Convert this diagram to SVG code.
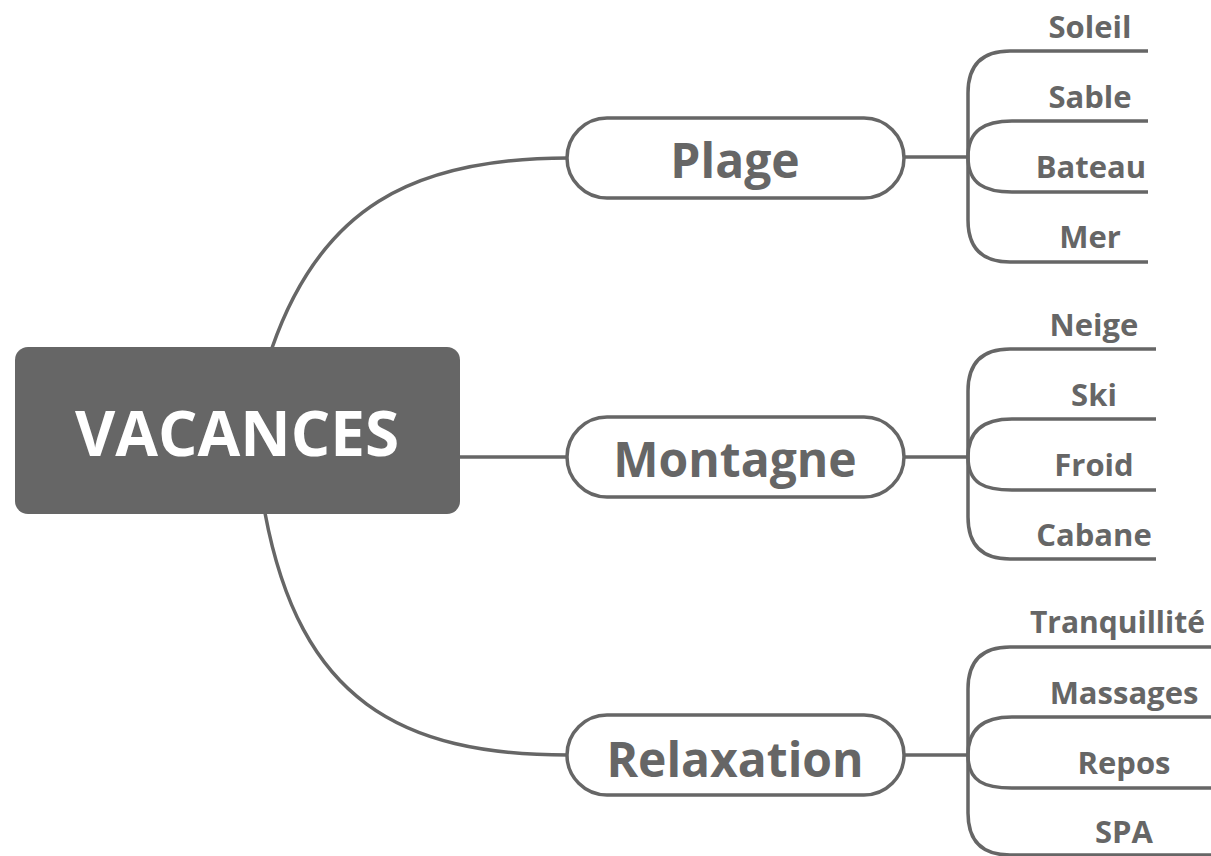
<svg xmlns="http://www.w3.org/2000/svg" width="1211" height="856" viewBox="0 0 1211 856">
<style>
.ln{fill:none;stroke:#666;stroke-width:3.5;stroke-linecap:butt}
.node{fill:#fff;stroke:#666;stroke-width:3.5}
.nt{font-family:"Open Sans","Liberation Sans",sans-serif;font-weight:bold;font-size:48px;fill:#666;text-anchor:middle}
.st{font-family:"Open Sans","Liberation Sans",sans-serif;font-weight:bold;font-size:31px;fill:#666;text-anchor:middle}
.ct{font-family:"Open Sans","Liberation Sans",sans-serif;font-weight:bold;font-size:62px;fill:#fff;text-anchor:middle}
</style>
<rect width="1211" height="856" fill="#fff"/>
<g id="connectors">
<path class="ln" d="M272 348 C320 210 410 158 568 158"/>
<path class="ln" d="M460 457 L568 457"/>
<path class="ln" d="M265 513 C300 700 400 755 568 755"/>
<path class="ln" d="M903 157 L968 157"/>
<path class="ln" d="M1148 51 L1010 51 Q968 51 968 93 L968 220 Q968 262 1010 262 L1148 262"/>
<path class="ln" d="M968 157 C968 130 985 121 1012 121 L1148 121"/>
<path class="ln" d="M968 157 C968 184 985 192 1012 192 L1148 192"/>
<path class="ln" d="M903 457 L968 457"/>
<path class="ln" d="M1156 349 L1010 349 Q968 349 968 391 L968 517 Q968 559 1010 559 L1156 559"/>
<path class="ln" d="M968 457 C968 430 985 419 1012 419 L1156 419"/>
<path class="ln" d="M968 457 C968 484 985 490 1012 490 L1156 490"/>
<path class="ln" d="M903 755 L968 755"/>
<path class="ln" d="M1215 647 L1010 647 Q968 647 968 689 L968 813 Q968 855 1010 855 L1215 855"/>
<path class="ln" d="M968 755 C968 728 985 717 1012 717 L1215 717"/>
<path class="ln" d="M968 755 C968 782 985 788 1012 788 L1215 788"/>
</g>
<g id="vacances">
<rect x="15" y="347" width="445" height="167" rx="13" fill="#666"/>
<text class="ct" x="237" y="456">VACANCES</text>
</g>
<g id="plage">
<rect class="node" x="567" y="118" width="337" height="80" rx="40"/>
<text class="nt" x="735" y="178">Plage</text>
</g>
<g id="montagne">
<rect class="node" x="567" y="417" width="337" height="80" rx="40"/>
<text class="nt" x="735" y="477">Montagne</text>
</g>
<g id="relaxation">
<rect class="node" x="567" y="715" width="337" height="80" rx="40"/>
<text class="nt" x="735" y="777">Relaxation</text>
</g>
<g id="soleil"><text class="st" x="1090" y="38">Soleil</text></g>
<g id="sable"><text class="st" x="1090" y="108">Sable</text></g>
<g id="bateau"><text class="st" x="1091" y="178">Bateau</text></g>
<g id="mer"><text class="st" x="1090" y="248">Mer</text></g>
<g id="neige"><text class="st" x="1094" y="336">Neige</text></g>
<g id="ski"><text class="st" x="1094" y="406">Ski</text></g>
<g id="froid"><text class="st" x="1094" y="476">Froid</text></g>
<g id="cabane"><text class="st" x="1094" y="546">Cabane</text></g>
<g id="tranquillite"><text class="st" x="1030" y="633" style="text-anchor:start;font-size:30px">Tranquillité</text></g>
<g id="massages"><text class="st" x="1124" y="704">Massages</text></g>
<g id="repos"><text class="st" x="1124" y="774">Repos</text></g>
<g id="spa"><text class="st" x="1124" y="843">SPA</text></g>
</svg>
